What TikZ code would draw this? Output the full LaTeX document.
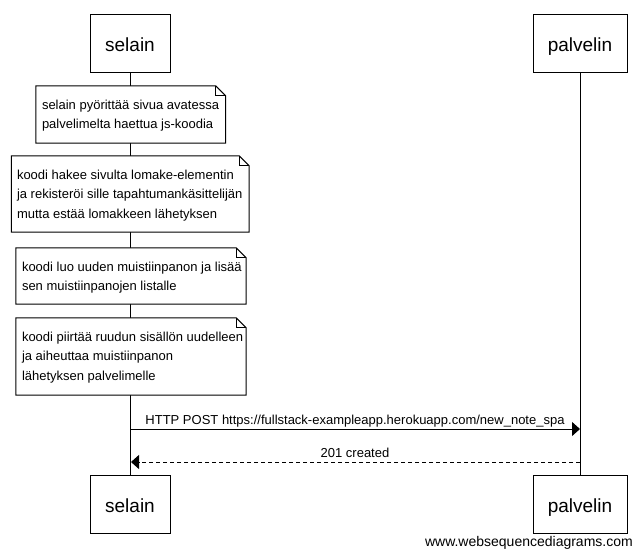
\documentclass[tikz,border=0pt]{standalone}
\usepackage{fontspec}
\setmainfont{Liberation Sans}
\usetikzlibrary{arrows.meta}
\begin{document}
\begin{tikzpicture}[x=1pt,y=-1pt,
  actor/.style={draw=black, line width=1pt, fill=white, inner sep=0pt, minimum height=58pt,
    font=\fontsize{19}{23}\selectfont, text height=17pt, text depth=0pt},
  life/.style={draw=black, line width=1pt},
  notebg/.style={inner sep=0pt, draw=none},
  notefr/.style={draw=black, line width=1pt, fill=white, line join=miter},
  fold/.style={draw=black, line width=1pt},
  ntxt/.style={anchor=base west, inner sep=0pt, font=\fontsize{13}{19.5}\selectfont},
  msg/.style={draw=black, line width=1pt, -{Triangle[length=8pt,width=14pt]}},
  reply/.style={msg, dash pattern=on 4pt off 3pt},
  mlabel/.style={anchor=base, inner sep=0pt, font=\fontsize{13}{16}\selectfont},
  wmark/.style={anchor=base east, inner sep=0pt, font=\fontsize{14}{16}\selectfont},
]
\useasboundingbox (0,0) rectangle (642,557);
\fill[white] (0,0) rectangle (642,557);

% participants
\node[actor, minimum width=80pt] (sTop) at (130,43) {selain};
\node[actor, minimum width=94pt] (pTop) at (580,43) {palvelin};
\node[actor, minimum width=80pt] (sBot) at (130,504) {selain};
\node[actor, minimum width=94pt] (pBot) at (580,504) {palvelin};

% lifelines
\draw[life] (sTop.south) -- (sBot.north);
\draw[life] (pTop.south) -- (pBot.north);

% note 1
\node[notebg, minimum width=189.5pt, minimum height=57pt] (n1) at (130.75,114.5) {};
\draw[notefr] (n1.north west) -- ([xshift=-10pt]n1.north east) -- ([yshift=-10pt]n1.north east) -- (n1.south east) -- (n1.south west) -- cycle;
\draw[fold] ([xshift=-10pt]n1.north east) -- ([xshift=-10pt,yshift=-10pt]n1.north east) -- ([yshift=-10pt]n1.north east);
\node[ntxt] (n1a) at (41.8,109.3) {selain pyörittää sivua avatessa};
\node[ntxt] (n1b) at (41.8,128.8) {palvelimelta haettua js-koodia};

% note 2
\node[notebg, minimum width=237.5pt, minimum height=76pt] (n2) at (130.25,194) {};
\draw[notefr] (n2.north west) -- ([xshift=-10pt]n2.north east) -- ([yshift=-10pt]n2.north east) -- (n2.south east) -- (n2.south west) -- cycle;
\draw[fold] ([xshift=-10pt]n2.north east) -- ([xshift=-10pt,yshift=-10pt]n2.north east) -- ([yshift=-10pt]n2.north east);
\node[ntxt] (n2a) at (16.8,179.3) {koodi hakee sivulta lomake-elementin};
\node[ntxt] (n2b) at (16.8,198.8) {ja rekisteröi sille tapahtumankäsittelijän};
\node[ntxt] (n2c) at (16.8,218.3) {mutta estää lomakkeen lähetyksen};

% note 3
\node[notebg, minimum width=230pt, minimum height=56pt] (n3) at (131,276) {};
\draw[notefr] (n3.north west) -- ([xshift=-10pt]n3.north east) -- ([yshift=-10pt]n3.north east) -- (n3.south east) -- (n3.south west) -- cycle;
\draw[fold] ([xshift=-10pt]n3.north east) -- ([xshift=-10pt,yshift=-10pt]n3.north east) -- ([yshift=-10pt]n3.north east);
\node[ntxt] (n3a) at (21.8,271.3) {koodi luo uuden muistiinpanon ja lisää};
\node[ntxt] (n3b) at (21.8,290.8) {sen muistiinpanojen listalle};

% note 4
\node[notebg, minimum width=230pt, minimum height=77pt] (n4) at (131,356.5) {};
\draw[notefr] (n4.north west) -- ([xshift=-10pt]n4.north east) -- ([yshift=-10pt]n4.north east) -- (n4.south east) -- (n4.south west) -- cycle;
\draw[fold] ([xshift=-10pt]n4.north east) -- ([xshift=-10pt,yshift=-10pt]n4.north east) -- ([yshift=-10pt]n4.north east);
\node[ntxt] (n4a) at (21.8,341.3) {koodi piirtää ruudun sisällön uudelleen};
\node[ntxt] (n4b) at (21.8,360.8) {ja aiheuttaa muistiinpanon};
\node[ntxt] (n4c) at (21.8,380.3) {lähetyksen palvelimelle};

% messages
\coordinate (s1) at (130,429);
\coordinate (p1) at (580,429);
\draw[msg] (s1) -- (p1);
\node[mlabel] (m1) at (355,424) {HTTP POST https://fullstack-exampleapp.herokuapp.com/new\_note\_spa};

\coordinate (p2) at (580,462);
\coordinate (s2) at (131,462);
\draw[reply] (p2) -- (s2);
\node[mlabel] (m2) at (355,457) {201 created};

% watermark
\node[wmark] (wm) at (633,546) {www.websequencediagrams.com};
\end{tikzpicture}
\end{document}
